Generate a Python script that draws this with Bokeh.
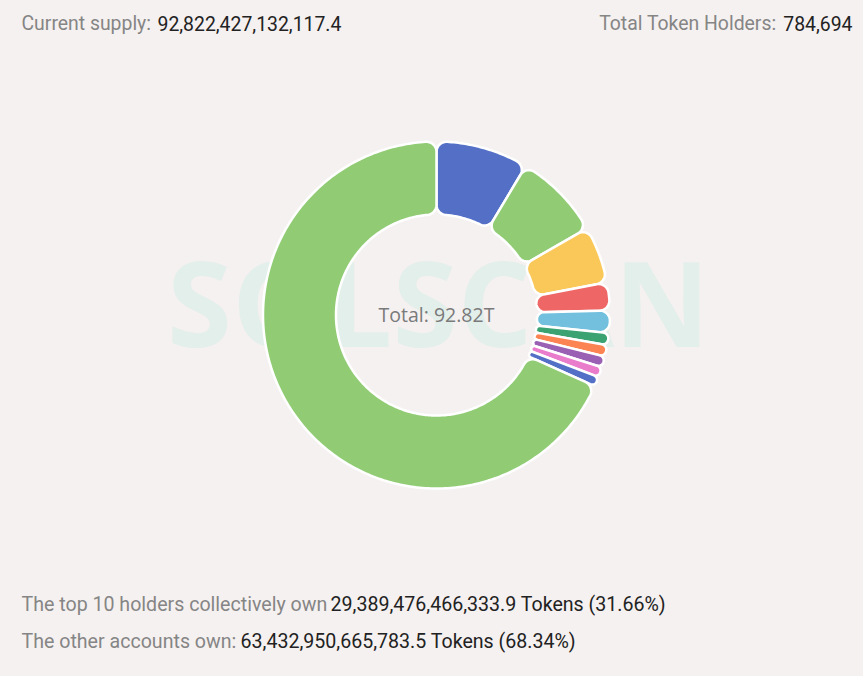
import math
from bokeh.plotting import figure
from bokeh.models import Range1d
from bokeh.core.properties import value
from bokeh.embed import file_html
from bokeh.resources import INLINE

# ---------------- data ----------------
total_supply_text = "92,822,427,132,117.4"
total_holders_text = "784,694"
center_label = "Total: 92.82T"
top10_tokens_text = "29,389,476,466,333.9 Tokens (31.66%)"
others_tokens_text = "63,432,950,665,783.5 Tokens (68.34%)"

holder_share_pct = [8.6, 8.1, 5.3, 2.6, 2.1, 1.12, 1.06, 1.02, 0.96, 0.90]
others_share_pct = 68.34
slice_colors = ["#5470c6", "#91cc75", "#fac858", "#ee6666", "#73c0de",
                "#3ba272", "#fc8452", "#9a60b4", "#ea7ccc", "#5470c6", "#91cc75"]

BG = "#f5f1f0"
GREY = "#858585"
DARK = "#222222"
FONT = "Roboto"

W, H = 855, 668
CX, CY = 436.0, 314.5
R_OUT, R_IN = 173.5, 100.5
CORNER = 10.0


def rounded_sector(a_hi, a_lo, r_i, r_o, c, n=14):
    th = a_hi - a_lo
    s = math.sin(min(th, math.pi) / 2)
    half = (r_o - r_i) / 2
    c_o = min(c, half, r_o * s / (1 + s))
    if th >= math.pi:
        c_i = min(c, half)
    else:
        c_i = min(c, half, r_i * s / (1 - s) if s < 1 else c)
    d_o = r_o - c_o
    d_i = r_i + c_i
    dl_o = math.asin(c_o / d_o)
    dl_i = math.asin(c_i / d_i)
    pts = []

    def arc(cx, cy, r, a0, a1, m):
        for k in range(m + 1):
            a = a0 + (a1 - a0) * k / m
            pts.append((cx + r * math.cos(a), cy + r * math.sin(a)))

    m_main = max(4, int(th * 60))
    arc(0, 0, r_o, a_lo + dl_o, a_hi - dl_o, m_main)
    oc = (d_o * math.cos(a_hi - dl_o), d_o * math.sin(a_hi - dl_o))
    arc(oc[0], oc[1], c_o, a_hi - dl_o, a_hi + math.pi / 2, n)
    ic = (d_i * math.cos(a_hi - dl_i), d_i * math.sin(a_hi - dl_i))
    arc(ic[0], ic[1], c_i, a_hi + math.pi / 2, a_hi - dl_i + math.pi, n)
    arc(0, 0, r_i, a_hi - dl_i, a_lo + dl_i, m_main)
    ic = (d_i * math.cos(a_lo + dl_i), d_i * math.sin(a_lo + dl_i))
    arc(ic[0], ic[1], c_i, a_lo + dl_i + math.pi, a_lo + 1.5 * math.pi, n)
    oc = (d_o * math.cos(a_lo + dl_o), d_o * math.sin(a_lo + dl_o))
    arc(oc[0], oc[1], c_o, a_lo - math.pi / 2, a_lo + dl_o, n)
    xs = [CX + x for x, y in pts]
    ys = [CY - y for x, y in pts]
    return xs, ys


shares = holder_share_pct + [others_share_pct]
tot = sum(shares)
xs_all, ys_all = [], []
start = math.pi / 2
for sh in shares:
    sweep = 2 * math.pi * sh / tot
    xs, ys = rounded_sector(start, start - sweep, R_IN, R_OUT, CORNER)
    xs_all.append(xs)
    ys_all.append(ys)
    start -= sweep

p = figure(width=W, height=H, output_backend="svg", toolbar_location=None,
           x_range=Range1d(0, W), y_range=Range1d(H, 0), min_border=0,
           background_fill_color=BG, border_fill_color=BG)
p.axis.visible = False
p.grid.visible = False
p.outline_line_color = None

# watermark
p.text(x=[CX + 2], y=[CY - 14], text=["SOLSCAN"], text_font=value("Open Sans"),
       text_font_size="118px", text_font_style="bold", text_color="#00d0a8",
       text_alpha=0.07, text_align="center", text_baseline="middle")

p.patches(xs_all, ys_all, fill_color=slice_colors, line_color="white",
          line_width=2.5, line_join="round")

p.text(x=[CX], y=[CY - 1], text=[center_label], text_font=value("Open Sans"),
       text_font_size="19.5px", text_color="#7a7a7a", text_align="center",
       text_baseline="middle")

fs_top = "19.4px"
fs_bot = "19.6px"
# top line
p.text(x=[21], y=[23], text=["Current supply:"], text_font=value(FONT),
       text_font_size=fs_top, text_color=GREY, text_baseline="middle")
p.text(x=[157], y=[23], text=[total_supply_text], text_font=value(FONT),
       text_font_size=fs_top, text_color=DARK, text_baseline="middle")
p.text(x=[852], y=[23], text=[total_holders_text], text_font=value(FONT),
       text_font_size=fs_top, text_color=DARK, text_baseline="middle", text_align="right")
p.text(x=[776], y=[23], text=["Total Token Holders:"], text_font=value(FONT),
       text_font_size=fs_top, text_color=GREY, text_baseline="middle", text_align="right")

# bottom lines
p.text(x=[21], y=[604], text=["The top 10 holders collectively own"], text_font=value(FONT),
       text_font_size=fs_bot, text_color=GREY, text_baseline="middle")
p.text(x=[330], y=[604], text=[top10_tokens_text], text_font=value(FONT),
       text_font_size=fs_bot, text_color=DARK, text_baseline="middle")
p.text(x=[21], y=[641], text=["The other accounts own:"], text_font=value(FONT),
       text_font_size=fs_bot, text_color=GREY, text_baseline="middle")
p.text(x=[240], y=[641], text=[others_tokens_text], text_font=value(FONT),
       text_font_size=fs_bot, text_color=DARK, text_baseline="middle")

html = file_html(p, INLINE)
html = html.replace("<head>", "<head><style>html,body{background:%s;}</style>" % BG, 1)
open("out.html", "w").write(html)
